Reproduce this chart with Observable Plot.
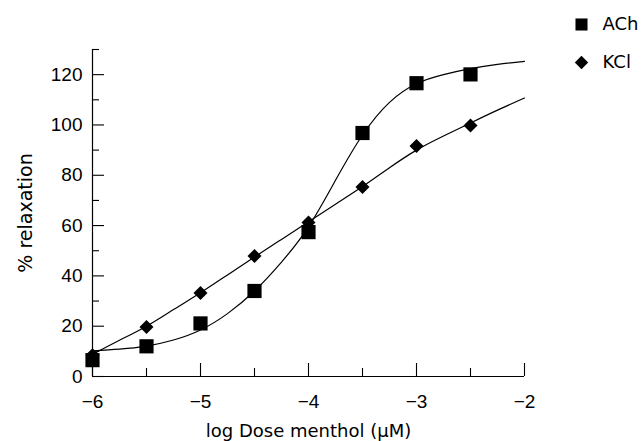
<!DOCTYPE html>
<html>
<head>
<meta charset="utf-8">
<script src="https://cdn.jsdelivr.net/npm/d3@7"></script>
<script src="https://cdn.jsdelivr.net/npm/@observablehq/plot@0.6"></script>
<style>
  html, body { margin: 0; padding: 0; background: #fff; }
</style>
</head>
<body>
<div id="chart"></div>
<script>
// Measured points (log dose of menthol vs % relaxation)
const logDose = [-6, -5.5, -5, -4.5, -4, -3.5, -3, -2.5];
const achRelax = [6.5, 12.0, 21.1, 34.0, 57.4, 96.8, 116.6, 120.1];
const kclRelax = [8.5, 19.7, 33.2, 47.9, 61.2, 75.3, 91.6, 99.8];

// Fitted curves
const curveDose = [-6, -5.75, -5.5, -5.25, -5, -4.75, -4.5, -4.25, -4, -3.75, -3.5, -3.25, -3, -2.75, -2.5, -2.25, -2];
const achCurve = [10.2, 10.9, 12.1, 14.5, 18.5, 25, 34, 45.5, 59.5, 78, 96, 109, 116.4, 120, 122.4, 124.1, 125.3];
const kclCurve = [8.8, 14.4, 20, 26.6, 33.3, 40.4, 47.5, 54.5, 61.5, 68.5, 75.5, 83, 90, 95.6, 100.8, 105.9, 110.7];

// Series and tick labels
const seriesNames = ["ACh", "KCl"];
const xMajorTicks = [-6, -5, -4, -3, -2];
const xMinorTicks = [-5.5, -4.5, -3.5, -2.5];
const yMajorTicks = [0, 20, 40, 60, 80, 100, 120];
const yMinorTicks = [10, 30, 50, 70, 90, 110, 130];
const xTitle = "log Dose menthol (μM)";
const yTitle = "% relaxation";

const ach = logDose.map((x, i) => ({x, y: achRelax[i]}));
const kcl = logDose.map((x, i) => ({x, y: kclRelax[i]}));
const achFit = curveDose.map((x, i) => ({x, y: achCurve[i]}));
const kclFit = curveDose.map((x, i) => ({x, y: kclCurve[i]}));

const tickFont = "Liberation Sans, Arial, sans-serif";
const textFont = "DejaVu Sans, Verdana, sans-serif";
const fmt = d => d < 0 ? "\u2212" + Math.abs(d) : String(d);

const chart = Plot.plot({
  width: 644,
  height: 441,
  marginLeft: 92,
  marginRight: 120,
  marginTop: 49,
  marginBottom: 65,
  style: {background: "#fff", color: "#000", fontFamily: textFont, fontSize: "18px"},
  x: {domain: [-6, -2]},
  y: {domain: [0, 130]},
  marks: [
    // axis lines
    Plot.ruleX([-6], {stroke: "#000", strokeWidth: 1.2}),
    Plot.ruleY([0], {stroke: "#000", strokeWidth: 1.2}),
    // inward tick marks
    Plot.axisY(yMajorTicks, {tickSize: 12, dx: 12, tickFormat: () => "", label: null, stroke: "#000", strokeWidth: 1.1}),
    Plot.axisY(yMinorTicks, {tickSize: 7, dx: 7, tickFormat: () => "", label: null, stroke: "#000", strokeWidth: 1.1}),
    Plot.axisX(xMajorTicks, {tickSize: 13, dy: -13, tickFormat: () => "", label: null, stroke: "#000", strokeWidth: 1.1}),
    Plot.axisX(xMinorTicks, {tickSize: 8, dy: -8, tickFormat: () => "", label: null, stroke: "#000", strokeWidth: 1.1}),
    // tick labels
    Plot.axisY(yMajorTicks, {tickSize: 0, tickPadding: 10, tickFormat: fmt, label: null, fontSize: 19, fontFamily: tickFont, fill: "#000"}),
    Plot.axisX(xMajorTicks, {tickSize: 0, tickPadding: 18, tickFormat: fmt, label: null, fontSize: 19, fontFamily: tickFont, fill: "#000"}),
    // axis titles
    Plot.text([yTitle], {text: d => d, frameAnchor: "left", dx: -67, rotate: -90, textAnchor: "middle", lineAnchor: "middle", fontSize: 19, fontFamily: textFont, fill: "#000"}),
    Plot.text([xTitle], {text: d => d, frameAnchor: "bottom", dy: 60, textAnchor: "middle", lineAnchor: "bottom", fontSize: 18, fontFamily: textFont, fill: "#000"}),
    // fitted curves
    Plot.line(achFit, {x: "x", y: "y", curve: "natural", stroke: "#000", strokeWidth: 1.2}),
    Plot.line(kclFit, {x: "x", y: "y", curve: "natural", stroke: "#000", strokeWidth: 1.2}),
    // data points
    Plot.dot(kcl, {x: "x", y: "y", symbol: "diamond2", r: 6.3, fill: "#000", stroke: "none"}),
    Plot.dot(ach, {x: "x", y: "y", symbol: "square", r: 8, fill: "#000", stroke: "none"}),
    // legend
    Plot.dot([seriesNames[0]], {frameAnchor: "top-right", dx: 57, dy: -25, symbol: "square", r: 6.8, fill: "#000", stroke: "none"}),
    Plot.text([seriesNames[0]], {text: d => d, frameAnchor: "top-right", dx: 78, dy: -25, textAnchor: "start", lineAnchor: "middle", fontSize: 18, fontFamily: textFont, fill: "#000"}),
    Plot.dot([seriesNames[1]], {frameAnchor: "top-right", dx: 57, dy: 13, symbol: "diamond2", r: 6, fill: "#000", stroke: "none"}),
    Plot.text([seriesNames[1]], {text: d => d, frameAnchor: "top-right", dx: 78, dy: 13, textAnchor: "start", lineAnchor: "middle", fontSize: 18, fontFamily: textFont, fill: "#000"})
  ]
});
document.getElementById("chart").appendChild(chart);
</script>
</body>
</html>
